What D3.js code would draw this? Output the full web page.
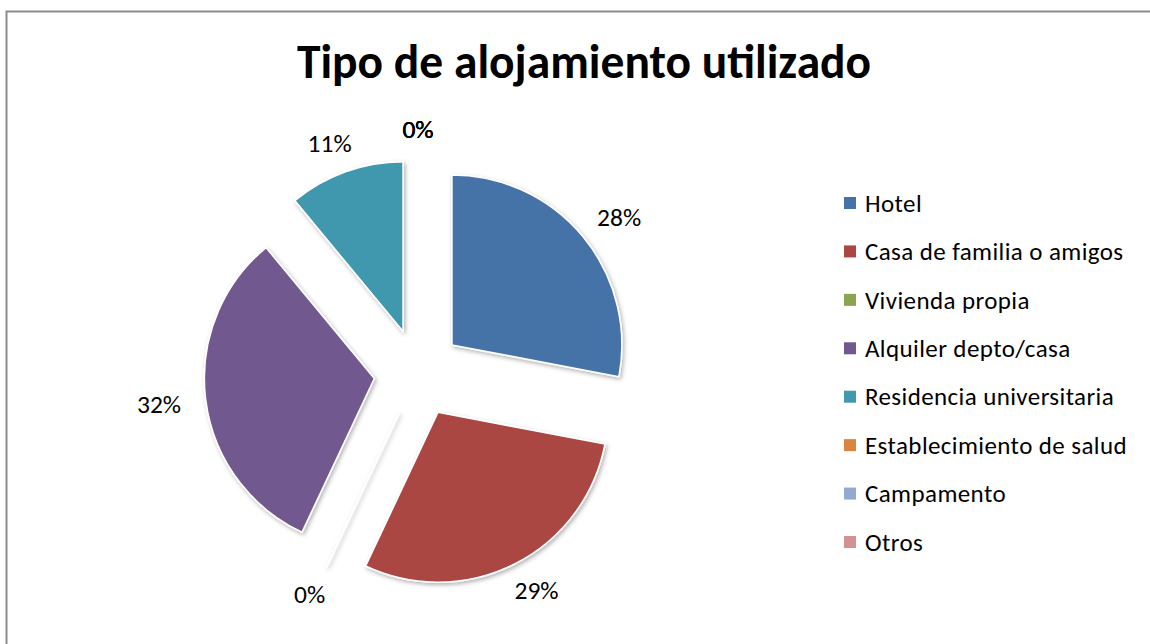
<!DOCTYPE html>
<html>
<head>
<meta charset="utf-8">
<script src="https://cdn.jsdelivr.net/npm/d3@7"></script>
<style>
  body { margin: 0; background: #fff; }
  svg { display: block; font-family: Carlito, Lato, sans-serif; }
</style>
</head>
<body>
<svg width="1150" height="644"></svg>
<script>
// data
const categories = ["Hotel", "Casa de familia o amigos", "Vivienda propia", "Alquiler depto/casa",
  "Residencia universitaria", "Establecimiento de salud", "Campamento", "Otros"];
const percents = [28, 29, 0, 32, 11, 0, 0, 0];
const colors = ["#4572A7", "#AA4643", "#89A54E", "#71588F", "#4198AF", "#DB843D", "#93A9CF", "#D19392"];

const data = categories.map((c, i) => ({ name: c, value: percents[i], color: colors[i] }));

const svg = d3.select("svg");

// chart frame
svg.append("rect")
  .attr("x", 6.5).attr("y", 11.5)
  .attr("width", 1160).attr("height", 660)
  .attr("fill", "#fff")
  .attr("stroke", "#8c8c8c")
  .attr("stroke-width", 2);

// drop shadow for the slices
const defs = svg.append("defs");
defs.append("filter")
  .attr("id", "shadow")
  .attr("x", "-20%").attr("y", "-20%")
  .attr("width", "140%").attr("height", "140%")
  .append("feDropShadow")
  .attr("dx", 1.5).attr("dy", 2)
  .attr("stdDeviation", 2)
  .attr("flood-color", "#000")
  .attr("flood-opacity", 0.3);

// title
svg.append("text")
  .attr("x", 584)
  .attr("y", 78)
  .attr("text-anchor", "middle")
  .attr("font-size", 47.5)
  .attr("font-weight", "bold")
  .attr("fill", "#000")
  .text("Tipo de alojamiento utilizado");

// pie
const cx = 418, cy = 373;
const radius = 170;
const explode = 44;
const labelR = 239;

const pie = d3.pie().sort(null).value(d => d.value);
const arc = d3.arc().innerRadius(0).outerRadius(radius);
const arcs = pie(data);

const g = svg.append("g").attr("transform", `translate(${cx}, ${cy})`);

const mid = d => (d.startAngle + d.endAngle) / 2;

g.selectAll(".slice")
  .data(arcs)
  .enter()
  .append("path")
  .attr("class", "slice")
  .attr("transform", d => `translate(${explode * Math.sin(mid(d))}, ${-explode * Math.cos(mid(d))})`)
  .attr("d", arc)
  .attr("fill", d => d.data.color)
  .attr("stroke", "#fff")
  .attr("stroke-width", 1.6)
  .attr("stroke-linejoin", "round")
  .attr("filter", "url(#shadow)");

// data labels, pushed out by half their box so they sit outside the slice
const labels = g.selectAll(".lbl")
  .data(arcs)
  .enter()
  .append("text")
  .attr("class", "lbl")
  .attr("dy", "0.35em")
  .attr("text-anchor", "middle")
  .attr("font-size", 25.5)
  .attr("fill", "#000")
  .text(d => d3.format(".0f")(d.data.value) + "%");

labels.each(function (d) {
  const w = this.getComputedTextLength();
  const ux = Math.sin(mid(d)), uy = -Math.cos(mid(d));
  d3.select(this)
    .attr("x", ux * labelR + ux * w / 2)
    .attr("y", uy * labelR + uy * 5);
});

// legend
const legend = svg.append("g").attr("transform", "translate(844, 203)");
const rowY = d3.scalePoint().domain(categories).range([0, 339]);

const item = legend.selectAll(".item")
  .data(data)
  .enter()
  .append("g")
  .attr("class", "item")
  .attr("transform", d => `translate(0, ${rowY(d.name)})`);

item.append("rect")
  .attr("x", 0).attr("y", -6)
  .attr("width", 12).attr("height", 12)
  .attr("fill", d => d.color);

item.append("text")
  .attr("x", 21)
  .attr("dy", "0.35em")
  .attr("font-size", 25)
  .attr("letter-spacing", 0.4)
  .attr("fill", "#000")
  .text(d => d.name);
</script>
</body>
</html>
